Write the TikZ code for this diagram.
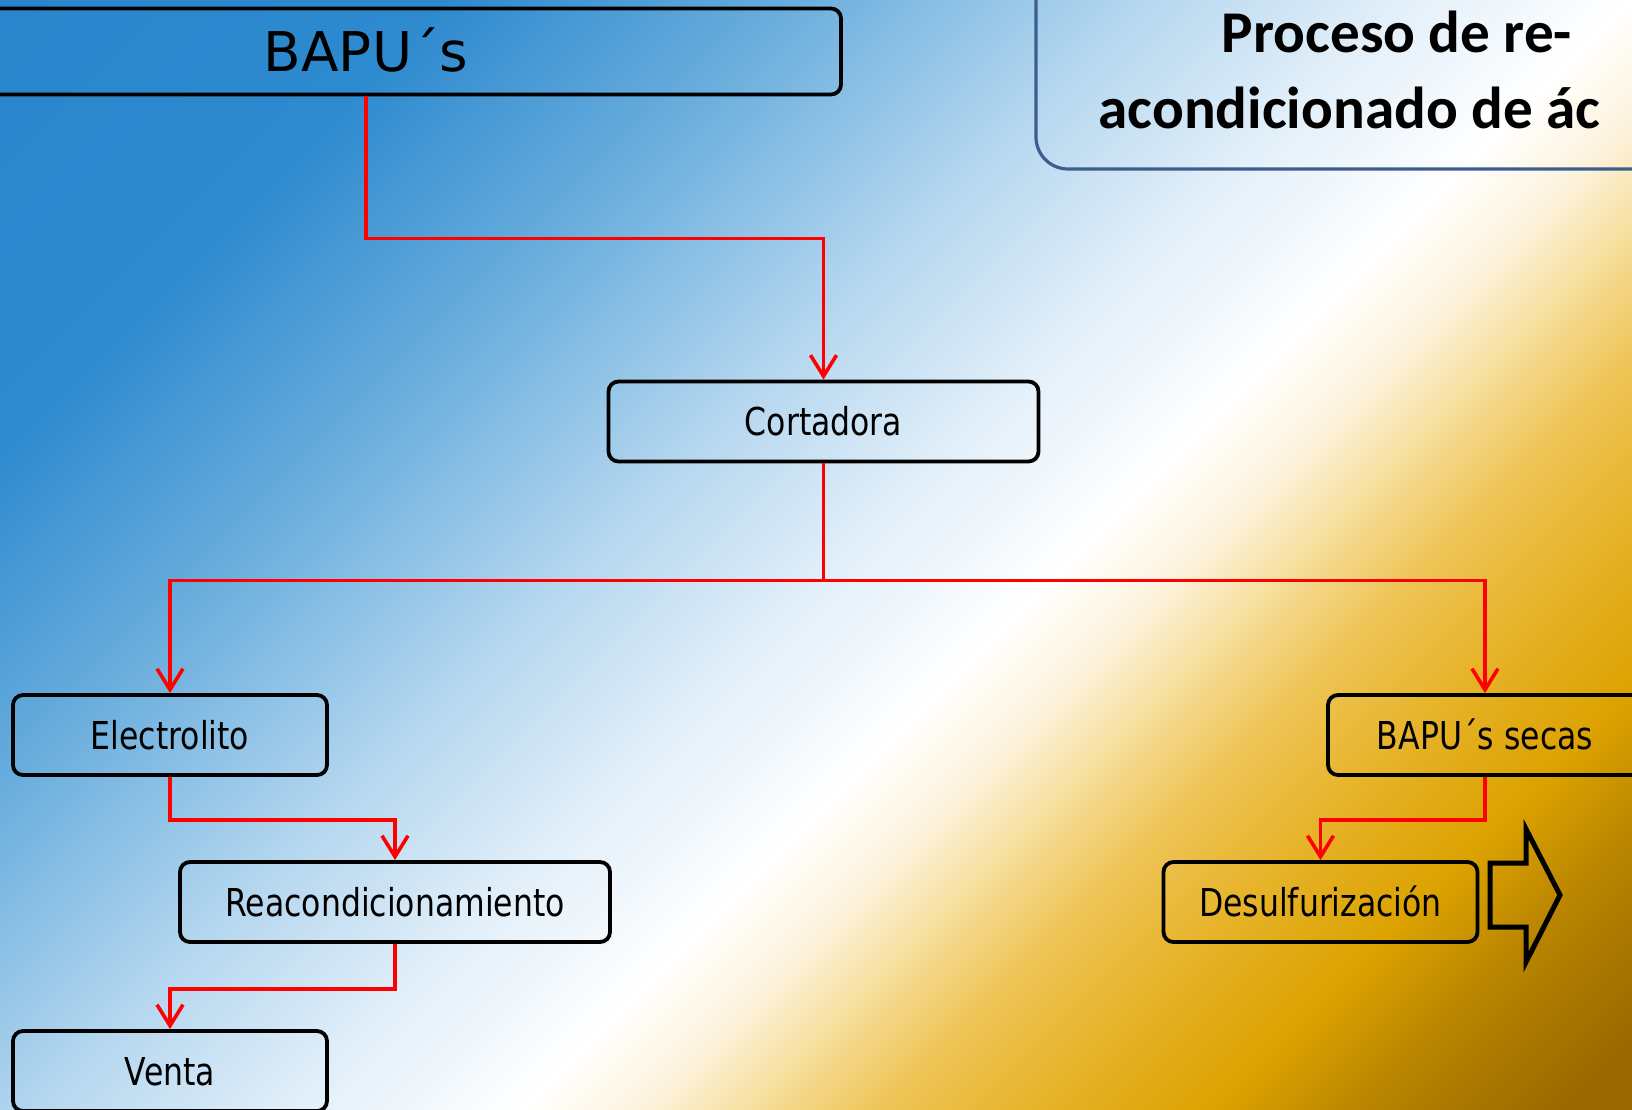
\documentclass[tikz,border=0pt]{standalone}
\usepackage{fontspec}
\setmainfont{DejaVu Sans}
\newfontfamily\labelfont[FakeStretch=0.82]{DejaVu Sans}
\newfontfamily\titlefont{Carlito}
\usetikzlibrary{arrows.meta}

\definecolor{bgA}{HTML}{2A86CC}
\definecolor{bgB}{HTML}{2E8ACF}
\definecolor{bgC}{HTML}{6AAEDD}
\definecolor{bgD}{HTML}{B0D4EE}
\definecolor{bgE}{HTML}{E2EFF9}
\definecolor{bgF}{HTML}{FFFFFF}
\definecolor{bgG}{HTML}{FDF3DC}
\definecolor{bgH}{HTML}{F4D88A}
\definecolor{bgI}{HTML}{EEC455}
\definecolor{bgJ}{HTML}{E7B42C}
\definecolor{bgK}{HTML}{DCA200}
\definecolor{bgL}{HTML}{B88400}
\definecolor{bgM}{HTML}{9A6A00}
\definecolor{titleline}{HTML}{3D5E8C}

\pgfdeclareverticalshading{bgshade}{400bp}{color(0bp)=(bgA); color(2bp)=(bgA);
  color(47bp)=(bgB); color(82bp)=(bgC); color(114bp)=(bgD); color(142bp)=(bgE);
  color(165bp)=(bgF); color(177bp)=(bgG); color(191bp)=(bgH); color(201bp)=(bgI);
  color(215bp)=(bgJ); color(234bp)=(bgK); color(249bp)=(bgL); color(268bp)=(bgM);
  color(278.1bp)=(bgM)}

\tikzset{
  box/.style={draw, line width=1.9pt, rounded corners=5pt, inner sep=0pt,
    minimum width=157pt, minimum height=40pt, text height=14pt, text depth=0pt,
    font=\labelfont\fontsize{19.2}{23}\selectfont},
  wide box/.style={box, minimum width=215pt},
  flow/.style={draw=red, line width=1.8pt, -{Straight Barb[length=10.5pt,width=13pt]}},
  title line/.style={inner sep=0pt, font=\titlefont\bfseries\fontsize{29.6}{35}\selectfont}
}

\begin{document}
\begin{tikzpicture}[x=0.5pt, y=-0.5pt]
\useasboundingbox (0,0) rectangle (1632,1109);
\clip (0,0) rectangle (1632,1109);

\begin{scope}
    \pgftransformshift{\pgfpointxy{816}{554.5}}
    \pgftransformrotate{-135}
    \pgftransformscale{3.5355}
    \pgflowlevelsynccm
    \pgfuseshading{bgshade}
\end{scope}

\draw[titleline, line width=1.6pt, rounded corners=16pt] (1036,-40) rectangle (1720,169);
\node[title line, anchor=base] (title1) at (1397,52) {Proceso de re-};
\node[title line, anchor=base west] (title2) at (1098,128) {acondicionado de ác};

\node[box, minimum width=475pt, minimum height=43pt, text height=20pt,
  font=\fontsize{27.4}{32}\selectfont] (bapu) at (366,51.5) {BAPU´s};
\node[wide box] (cortadora) at (823.5,421.5) {Cortadora};
\node[box] (electrolito) at (170,735) {Electrolito};
\node[wide box] (reacond) at (395,902) {Reacondicionamiento};
\node[box] (venta) at (170,1071) {Venta};
\node[box] (secas) at (1485,735) {BAPU´s secas};
\node[box] (desulf) at (1320.5,902) {Desulfurización};

\draw[flow] (bapu.south) -- ++(0,142) -| (cortadora.north);
\draw[flow] (cortadora.south) -- ++(0,117) coordinate (split) -| (electrolito.north);
\draw[flow] (split) -| (secas.north);
\draw[flow] (electrolito.south) -- ++(0,43) -| (reacond.north);
\draw[flow] (reacond.south) -- ++(0,45) -| (venta.north);
\draw[flow] (secas.south) -- ++(0,43) -| (desulf.north);

\draw[line width=2.5pt, line join=miter] (1490,863) -- (1526,863) -- (1526,829)
    -- (1560,895) -- (1526,962) -- (1526,927) -- (1490,927) -- cycle;
\end{tikzpicture}
\end{document}
